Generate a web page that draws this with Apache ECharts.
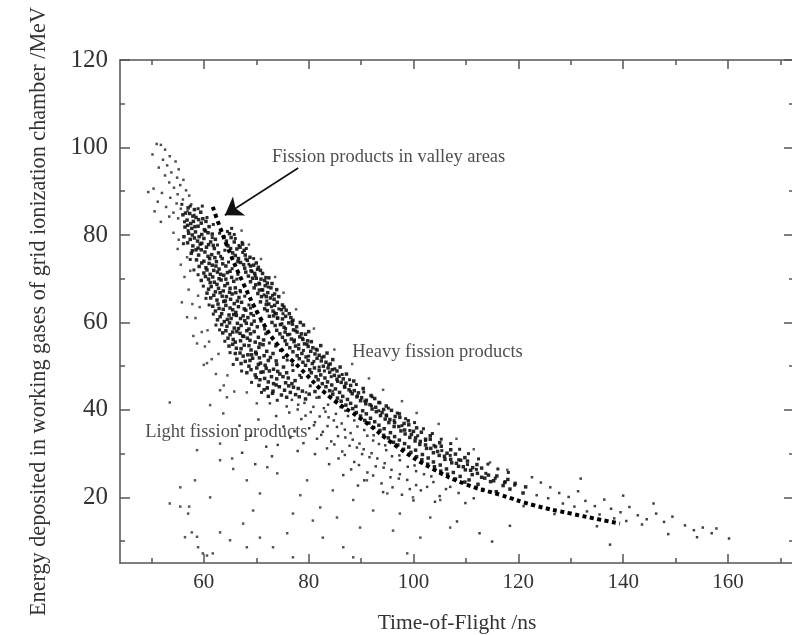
<!DOCTYPE html>
<html>
<head>
<meta charset="utf-8">
<script src="https://cdn.jsdelivr.net/npm/echarts@6/dist/echarts.min.js"></script>
<style>
  html, body { margin: 0; padding: 0; background: #fff; }
  #chart { width: 792px; height: 635px; }
</style>
</head>
<body>
<div id="chart"></div>
<script>
// tick values
const xMajorTicks = [60, 80, 100, 120, 140, 160];
const xMinorTicks = [50, 70, 90, 110, 130, 150, 170];
const yMajorTicks = [20, 40, 60, 80, 100, 120];
const yMinorTicks = [10, 30, 50, 70, 90, 110];

// points, [time-of-flight ns, energy MeV]
const topCluster = [
  [51.0,100.8],[51.8,100.6],[52.6,99.5],[50.2,98.4],[53.5,98.0],[52.2,97.2],[54.6,96.8],[53.0,95.9],
  [51.4,95.4],[55.2,95.0],[53.8,94.3],[52.6,93.6],[54.9,93.1],[56.1,92.6],[53.4,92.0],[55.5,91.4],
  [50.4,90.6],[54.3,90.8],[56.6,90.2],[52.0,89.6],[55.0,89.3],[57.2,89.0],[49.4,89.8],[53.6,88.5],
  [56.0,88.1],[51.2,87.6],[54.8,87.2],[57.6,87.0],[52.8,86.4],[55.6,86.0],[50.6,85.4],[54.2,85.1],
  [56.9,85.5],[53.4,84.2],[58.2,84.6],[51.8,83.0],[55.1,83.8]
];

const lightBand = [
  [56.0,84.6],[57.3,84.9],[58.5,84.0],[59.4,85.2],[56.8,83.4],[58.0,83.1],[59.8,83.7],[57.5,82.6],
  [56.4,81.8],[57.7,81.5],[58.9,82.0],[60.1,81.2],[61.0,81.9],[57.1,80.4],[58.4,80.7],[59.6,80.1],
  [60.8,80.5],[56.2,79.6],[57.4,79.0],[58.8,78.6],[60.0,79.2],[61.3,78.4],[62.2,79.0],[57.9,77.5],
  [59.3,77.9],[60.5,77.2],[61.8,77.6],[58.5,76.6],[57.6,75.8],[59.0,75.4],[60.2,76.1],[61.5,75.5],
  [62.8,75.9],[63.5,74.6],[58.6,74.3],[60.0,74.0],[61.1,74.6],[62.4,73.9],[59.1,72.8],[60.4,72.5],
  [61.6,73.1],[62.9,72.2],[64.2,72.9],[65.0,71.7],[60.0,71.3],[61.2,71.0],[62.6,71.5],[63.8,70.8],
  [59.5,69.6],[60.9,69.9],[62.0,69.2],[63.3,69.7],[64.5,68.9],[65.7,69.4],[61.4,68.2],[62.8,67.8],
  [64.0,68.4],[66.0,67.9],[60.6,66.7],[61.9,66.2],[63.1,66.8],[64.3,65.9],[65.4,66.5],[66.7,65.7],
  [62.5,65.1],[63.8,64.8],[65.1,65.3],[67.2,64.6],[61.7,63.7],[62.9,63.2],[64.2,63.9],[65.5,62.9],
  [66.6,63.6],[68.0,62.8],[63.4,62.0],[64.8,61.7],[66.1,62.3],[67.5,61.5],[69.0,62.0],[62.6,60.6],
  [63.9,60.2],[65.2,60.9],[66.4,59.8],[67.8,60.4],[69.1,59.6],[64.4,59.1],[65.8,58.7],[67.1,59.3],
  [68.6,58.5],[70.2,59.0],[63.6,57.6],[65.0,57.2],[66.3,57.9],[67.6,56.8],[68.9,57.4],[70.4,56.6],
  [65.6,56.1],[67.0,55.8],[68.3,56.4],[69.8,55.5],[71.4,56.0],[64.8,54.6],[66.2,54.1],[67.7,54.8],
  [69.0,53.7],[70.5,54.3],[72.0,53.4],[66.9,53.0],[68.4,52.6],[69.9,53.2],[71.5,52.4],[73.2,52.9],
  [66.3,51.6],[67.9,51.1],[69.3,51.8],[70.8,50.7],[72.3,51.3],[73.9,50.4],[68.6,50.0],[70.1,49.6],
  [71.7,50.2],[73.3,49.3],[75.2,49.8],[68.2,48.5],[69.8,48.0],[71.3,48.7],[72.9,47.6],[74.5,48.2],
  [76.1,47.3],[70.7,46.9],[72.3,46.4],[73.9,47.1],[75.6,46.2],[77.4,46.7],[70.5,45.6],[72.1,45.0],
  [73.8,45.7],[75.4,44.5],[77.1,45.2],[78.8,44.3],[73.1,43.8],[74.8,43.4],[76.5,44.0],[78.2,43.0],
  [80.1,43.6]
];

const lightCore = [
  [57.0,86.2],[58.2,85.8],[56.5,85.0],[57.9,84.3],[59.0,83.5],[56.9,82.2],[58.3,81.9],[59.5,82.7],
  [60.4,83.1],[57.8,80.0],[59.1,79.6],[60.3,80.9],[61.6,80.2],[56.9,78.2],[58.2,79.3],[59.6,78.1],
  [60.9,77.8],[62.0,76.9],[58.9,77.0],[57.8,76.4],[59.5,76.6],[60.8,75.1],[62.1,74.8],[59.6,73.6],
  [61.0,73.5],[62.3,72.9],[63.6,73.4],[60.6,72.0],[61.9,71.9],[63.2,71.0],[64.5,71.4],[60.3,70.5],
  [61.7,70.4],[62.9,70.0],[64.2,69.9],[65.3,70.3],[61.2,69.1],[62.5,68.7],[63.7,67.2],[65.0,67.8],
  [60.9,67.6],[62.2,67.0],[63.5,66.0],[64.9,66.9],[66.1,66.8],[61.3,65.6],[62.7,64.2],[64.1,64.9],
  [65.8,64.3],[66.4,64.9],[62.2,62.6],[63.7,63.0],[65.0,63.3],[66.2,61.6],[67.7,63.1],[63.1,61.3],
  [64.5,60.7],[65.7,61.8],[67.0,60.9],[68.4,61.1],[63.4,59.5],[64.9,59.9],[66.6,58.6],[68.1,59.8],
  [69.6,60.3],[64.2,58.1],[65.5,57.8],[66.9,57.5],[68.2,58.1],[69.6,57.9],[64.6,56.4],[66.0,55.5],
  [67.4,56.9],[68.8,55.9],[70.7,55.1],[65.5,55.0],[67.1,54.0],[68.6,54.7],[70.0,52.8],[71.3,54.9],
  [66.0,52.9],[67.5,52.3],[69.1,52.6],[70.6,51.9],[72.7,52.0],[67.1,50.6],[68.8,51.3],[70.4,50.4],
  [71.9,49.5],[73.8,51.2],[69.0,49.2],[70.9,48.6],[72.5,48.9],[74.1,48.8],[75.8,48.5],[70.0,47.4],
  [71.6,47.2],[73.3,46.0],[75.1,47.6],[76.8,46.0],[71.5,44.6],[73.2,44.3],[74.4,45.3],[76.2,45.5],
  [78.0,44.9],[72.3,43.1],[75.8,42.9],[77.5,43.5],[79.4,42.5],[81.2,44.2]
];

const lightExtra = [
  [55.8,87.0],[57.4,86.6],[58.9,86.0],[56.3,83.0],[60.6,84.0],[57.0,81.0],[61.8,82.4],[56.1,78.0],
  [61.6,79.4],[62.6,77.7],[57.4,74.4],[63.2,75.1],[58.1,72.0],[64.7,73.8],[58.9,70.9],[65.4,72.3],
  [59.9,68.3],[66.3,69.9],[60.4,65.5],[66.9,67.3],[61.0,64.0],[67.8,66.0],[61.8,61.9],[68.6,64.0],
  [62.3,59.4],[69.5,61.6],[63.0,58.3],[70.9,60.3],[64.0,55.7],[71.8,57.4],[65.0,53.1],[72.5,55.3],
  [65.6,50.4],[74.6,53.6],[67.2,48.9],[75.9,51.4],[69.1,46.3],[77.0,49.0],[71.0,44.0],[78.6,47.4],
  [80.3,45.5],[74.0,42.2],[82.0,42.9],[59.7,86.6],[63.0,80.4],[64.0,76.5],[66.5,71.0],[67.0,67.0],
  [68.9,63.3],[70.1,62.4],[71.6,58.5],[73.7,54.6],[75.2,52.0],[76.9,50.3],[78.3,47.9]
];

const lightTail = [
  [76.8,42.3],[79.2,41.6],[81.5,42.8],[83.7,41.2],[85.4,42.0],[77.9,40.1],[80.4,39.5],[82.9,40.4],
  [85.2,39.1],[87.0,39.8],[78.6,37.9],[81.2,37.2],[83.8,38.3],[86.3,36.9],[88.7,37.6],[80.1,35.8],
  [82.7,35.0],[85.4,36.1],[88.0,34.7],[90.6,35.4],[92.4,34.2],[81.6,33.4],[84.3,32.8],[87.0,33.7],
  [89.7,32.3],[92.3,33.0],[94.6,31.9],[83.5,31.2],[86.4,30.5],[89.2,31.4],[92.0,30.1],[94.8,30.8],
  [97.3,29.6],[85.7,28.9],[88.7,28.1],[91.6,29.2],[94.5,27.8],[97.4,28.5],[100.2,27.3],[88.1,26.4],
  [91.2,25.7],[94.3,26.8],[97.4,25.3],[100.5,26.0],[103.4,24.8],[90.6,23.9],[93.9,23.2],[97.2,24.3],
  [100.5,22.8],[103.8,23.5],[107.0,22.4],[94.2,21.2],[97.8,20.6],[101.4,21.6],[105.0,20.3],[108.6,21.0],
  [111.5,19.8],[79.5,44.0],[84.6,44.3],[73.8,38.6],[75.2,36.2],[76.5,33.7],[74.1,32.0],[77.9,30.6],
  [72.6,41.5],[75.8,40.8],[66.8,36.4],[68.9,34.1],[70.4,37.8],[71.9,31.6],[67.3,30.2],[69.8,27.6],
  [73.0,29.4],
  [78.0,41.2],[80.9,40.7],[83.2,39.6],[86.1,40.6],[79.4,38.7],[82.1,38.5],[84.8,37.6],[87.5,38.6],
  [81.0,36.5],[83.6,36.3],[86.9,35.5],[89.3,36.2],[82.4,34.3],[85.6,34.0],[88.4,33.2],[91.2,34.1],
  [84.9,32.1],[87.8,31.8],[90.5,31.0],[93.4,32.2],[86.9,29.7],[90.2,29.9],[93.1,28.9],[95.9,29.4],
  [89.6,27.4],[92.8,27.1],[95.8,26.3],[98.9,27.0],[92.3,25.0],[95.6,24.6],[98.8,24.0],[102.0,25.3],
  [96.0,22.3],[99.3,21.9],[102.6,22.4],[106.2,21.9],[100.0,19.3],[104.1,19.0],[109.9,18.7],[76.3,39.4],
  [77.3,35.1],[79.0,32.4],[81.2,29.9],[83.9,27.6],[86.6,25.1],[89.4,22.7]
];

const heavyBand = [
  [63.8,79.6],[64.9,80.3],[65.8,78.4],[64.6,77.5],[66.3,76.8],[67.4,77.9],[65.5,75.9],[67.9,75.4],
  [66.6,74.6],[67.0,73.7],[68.3,74.2],[69.5,73.1],[67.8,72.4],[69.0,71.8],[70.4,72.6],[71.2,71.2],
  [68.5,70.6],[70.0,70.1],[71.6,69.6],[68.9,69.3],[70.6,68.8],[72.1,69.0],[69.6,67.9],[71.2,67.4],
  [72.8,67.9],[73.5,66.5],[70.3,66.6],[71.9,65.9],[73.4,65.3],[70.8,64.7],[72.4,64.2],[74.0,64.6],
  [75.3,63.5],[71.6,63.1],[73.2,62.6],[74.8,62.9],[76.3,62.0],[72.5,61.4],[74.1,61.0],[75.6,61.4],
  [77.0,60.5],[73.0,60.0],[74.6,59.5],[76.2,59.9],[77.7,59.0],[79.0,59.4],[73.9,58.2],[75.5,57.8],
  [77.1,58.3],[78.6,57.4],[80.0,57.9],[75.0,56.6],[76.7,56.2],[78.3,56.7],[79.8,55.8],[75.8,55.0],
  [77.5,54.6],[79.2,55.1],[80.8,54.2],[82.3,54.7],[77.0,53.3],[78.7,52.9],[80.4,53.4],[82.0,52.5],
  [83.5,53.0],[78.2,51.7],[79.9,51.3],[81.6,51.8],[83.3,50.9],[84.6,51.5],[79.4,50.2],[81.1,49.6],
  [82.8,50.0],[84.5,49.2],[86.0,49.8],[80.5,48.5],[82.3,48.0],[84.0,48.6],[85.8,47.7],[87.2,48.2],
  [81.8,46.9],[83.6,46.4],[85.4,47.0],[87.1,46.1],[88.6,46.6],[83.3,45.3],[85.1,44.8],[86.9,45.2],
  [88.7,44.4],[90.4,44.9],[84.6,43.6],[86.5,43.1],[88.3,43.7],[90.1,42.8],[91.9,43.3],[86.2,42.0],
  [88.0,41.5],[89.9,42.1],[91.7,41.2],[93.4,41.7],[94.8,40.9],[88.4,40.3],[90.3,39.8],[92.1,40.2],
  [94.0,39.4],[95.8,39.9],[97.3,39.1],[89.9,38.6],[91.8,38.1],[93.7,38.7],[95.5,37.8],[97.4,38.3],
  [99.0,37.5],[91.5,37.0],[93.4,36.5],[95.3,37.1],[97.2,36.2],[99.1,36.6],[100.6,35.9],[93.6,35.3],
  [95.6,34.8],[97.6,35.2],[99.6,34.4],[101.5,34.9],[103.2,34.1],[95.2,33.6],[97.3,33.1],[99.3,33.7],
  [101.3,32.8],[103.2,33.3],[105.0,32.5],[97.0,32.0],[99.1,31.5],[101.2,32.1],[103.3,31.2],[105.3,31.7],
  [107.1,30.9],[99.5,30.3],[101.7,29.8],[103.8,30.2],[105.9,29.4],[108.0,29.9],[109.8,29.1],[101.6,28.6],
  [103.8,28.1],[106.0,28.7],[108.2,27.8],[110.3,28.3],[112.1,27.5],[104.0,27.0],[106.3,26.5],[108.6,27.1],
  [110.9,26.2],[113.0,26.7],[106.5,25.3],[108.9,24.8],[111.2,25.2],[113.6,24.4],[115.9,24.9],[118.0,24.1],
  [109.8,23.5],[112.3,23.0],[114.7,23.6],[117.1,22.7],[119.4,23.2],[121.4,22.4],[113.2,21.8],[115.8,21.3],
  [118.4,21.9],[120.9,21.0]
];

const heavyCore = [
  [64.3,78.6],[65.2,79.4],[66.9,77.2],[65.1,76.9],[66.0,75.3],[67.7,76.5],[68.8,74.9],[66.5,73.9],
  [67.6,73.2],[68.9,72.9],[70.0,73.6],[68.0,71.5],[69.7,71.2],[70.8,71.9],[69.3,70.1],[70.9,69.9],
  [72.4,70.2],[69.9,68.6],[71.7,68.4],[73.0,68.9],[70.6,67.4],[72.2,66.8],[73.9,67.5],[71.0,65.9],
  [72.7,65.6],[74.3,65.9],[71.9,64.1],[73.5,63.9],[75.0,64.0],[72.1,62.7],[73.8,62.0],[75.7,62.8],
  [73.3,61.5],[75.0,60.8],[76.6,61.1],[73.6,59.3],[75.3,58.9],[76.9,59.6],[78.4,60.0],[74.5,57.4],
  [76.0,57.2],[77.8,57.8],[79.4,57.3],[75.5,55.8],[77.2,55.6],[78.9,56.1],[80.5,55.6],[76.4,54.2],
  [78.1,54.0],[79.9,54.5],[81.6,53.7],[77.8,52.4],[79.5,52.1],[81.2,52.8],[82.9,52.2],[78.9,50.9],
  [80.7,50.6],[82.4,51.2],[84.1,50.5],[80.2,49.2],[82.0,49.0],[83.7,49.6],[85.4,48.9],[81.4,47.6],
  [83.1,47.3],[84.9,47.9],[86.6,47.1],[82.6,46.0],[84.4,45.7],[86.2,46.3],[88.0,45.6],[84.0,44.4],
  [85.9,44.0],[87.7,44.6],[89.5,43.9],[85.5,42.7],[87.4,42.4],[89.2,43.0],[91.0,42.2],[92.6,42.6],
  [87.1,41.1],[89.0,40.8],[90.9,41.4],[92.8,40.6],[94.3,40.1],[89.1,39.4],[91.0,39.1],[92.9,39.6],
  [94.8,38.8],[96.5,38.5],[90.7,37.6],[92.6,37.3],[94.6,37.9],[96.4,37.1],[98.2,36.9],[92.4,36.0],
  [94.4,35.7],[96.3,36.2],[98.3,35.4],[100.0,35.1],[94.3,34.2],[96.4,33.9],[98.4,34.5],[100.4,33.6],
  [102.3,33.3],[96.2,32.6],[98.3,32.3],[100.3,32.9],[102.3,32.0],[104.2,31.6],[98.1,31.0],[100.4,30.8],
  [102.5,31.2],[104.6,30.5],[106.4,30.1],[100.6,29.3],[102.8,29.0],[104.9,29.6],[107.1,28.7],[109.0,28.5],
  [102.7,27.6],[105.1,27.4],[107.3,27.9],[109.5,27.0],[111.3,26.8],[105.2,26.0],[107.6,25.7],[109.9,26.3],
  [112.2,25.5],[114.3,25.1],[108.0,24.2],[110.6,24.0],[113.0,24.6],[115.3,23.8],[117.4,23.4]
];

const heavyExtra = [
  [64.5,80.8],[65.3,81.5],[66.0,79.2],[66.7,77.6],[67.4,76.0],[68.0,74.5],[68.6,73.3],[69.2,71.6],
  [69.8,70.7],[70.5,69.0],[71.1,67.5],[71.5,66.3],[72.0,64.9],[72.9,63.6],[73.5,62.2],[74.0,61.0],
  [74.9,59.7],[75.6,58.6],[76.4,57.3],[77.3,56.0],[78.1,54.9],[79.0,53.6],[80.0,52.3],[81.0,51.1],
  [82.0,49.8],[83.0,48.9],[84.3,47.6],[85.5,46.5],[86.8,45.4],[88.0,44.2],[89.3,43.2],[90.7,42.0],
  [92.0,40.9],[93.4,39.8],[94.9,38.6],[96.3,37.6],[97.8,36.4],[99.3,35.3],[100.8,34.1],[102.3,33.0],
  [103.9,31.9],[105.4,30.7],[107.0,29.6],[108.6,28.6],[110.3,27.5],[112.0,26.4],[113.8,25.5],[115.6,24.4],
  [117.5,23.6],[119.3,22.8],[65.8,80.1],[67.3,78.3],[68.1,76.9],[69.5,74.6],[70.2,72.1],[71.8,70.3],
  [72.3,68.1],[73.1,66.2],[74.3,63.1],[75.1,62.0],[76.8,60.2],[77.5,58.1],[78.8,56.4],[79.7,55.0],
  [81.4,53.9],[82.5,52.0],[83.8,50.3],[85.0,49.4],[86.4,48.1],[87.8,46.9],[89.1,45.8],[90.5,44.1],
  [92.1,43.0],[93.6,41.6],[95.2,40.4],[96.9,39.3],[98.5,38.0],[100.2,37.1],[101.9,35.7],[103.6,34.6],
  [105.3,33.3],[107.1,32.3],[108.8,31.0],[110.5,30.0],[112.4,28.8],[114.2,27.6],[116.1,26.5],[118.1,25.7]
];

const heavyTail = [
  [122.6,24.6],[124.3,23.4],[126.1,22.3],[123.5,20.5],[125.7,19.8],[127.8,21.0],[129.6,20.1],[131.4,21.4],
  [128.5,18.6],[130.7,17.9],[132.8,19.2],[134.6,18.0],[136.4,19.5],[133.1,16.8],[135.5,16.1],[137.7,17.4],
  [139.5,16.6],[141.2,17.8],[138.3,15.2],[140.6,14.6],[142.8,15.9],[144.5,15.0],[146.3,16.3],[143.6,13.8],
  [147.8,14.4],[149.4,15.6],[151.8,13.6],[153.5,12.5],[155.2,13.1],[156.9,11.8],[157.8,12.9],[154.1,10.9],
  [121.0,18.0],[126.9,16.2],[135.0,13.4],[148.6,11.6],[131.9,24.3],[140.0,20.4],[145.8,18.6],[160.2,10.6],
  [108.3,14.5],[112.6,11.8],[118.4,13.5],[115.0,9.9],[137.5,9.2]
];

const outliers = [
  [54.2,80.5],[55.0,76.8],[55.6,73.2],[56.3,70.4],[57.1,67.5],[57.8,64.2],[58.4,61.0],[59.6,57.8],
  [60.2,54.5],[61.5,51.6],[62.3,48.2],[63.8,45.6],[58.9,66.1],[56.8,74.9],[60.7,58.2],[62.8,52.8],
  [55.2,78.9],[57.4,71.8],[59.2,63.5],[61.0,55.6],[64.5,47.9],[65.8,44.2],[60.0,50.3],[58.0,56.9],
  [55.8,64.6],[56.8,61.2],[58.7,55.2],[60.6,50.7],
  [91.5,47.2],[94.2,44.6],[97.8,42.0],[100.6,39.3],[104.8,36.8],[108.2,33.4],[111.5,31.0],[114.6,28.0],
  [117.9,26.3],[88.3,50.5],[84.9,53.8],[81.0,58.6],[77.6,63.0],[75.2,66.8],[73.6,70.4],[70.9,74.5],
  [68.6,77.8],[67.2,81.0]
];

const background = [
  [53.5,18.6],[55.5,22.3],[57.0,16.3],[58.3,23.9],[58.7,11.0],[53.5,41.7],[61.2,41.1],[64.4,42.9],
  [63.1,28.5],[65.4,28.9],[61.2,20.0],[63.1,12.0],[65.0,10.2],[67.5,14.0],[69.4,17.0],[70.7,20.9],
  [68.2,23.9],[72.1,26.9],[74.0,25.5],[70.7,10.8],[73.2,8.6],[75.9,11.8],[77.0,16.3],[78.4,20.5],
  [79.7,23.9],[80.8,14.7],[82.2,17.7],[82.7,10.8],[84.6,21.6],[85.4,15.4],[86.6,8.6],[88.5,19.4],
  [89.8,13.1],[91.1,23.9],[92.3,17.0],[95.0,20.9],[96.1,12.4],[97.4,16.3],[99.9,20.0],[101.3,10.8],
  [103.2,15.4],[105.1,19.4],[107.0,13.1],[98.8,7.2],[88.5,6.3],[77.0,6.3],[59.8,7.2],[68.2,8.6],
  [55.5,17.9],[57.2,17.9],[57.7,12.0],[58.9,8.6],[60.6,6.7],[61.7,7.2],[56.4,10.9],[58.7,30.8],
  [63.1,32.3],[65.6,26.5],[63.7,39.2],[63.1,44.5],[68.2,44.0],[70.1,41.5],[72.1,45.2]
];

// dotted line through the valley
const valleyLine = [
  [61.7,86.4],[63.0,82.0],[65.0,75.8],[67.5,69.0],[70.7,61.2],[74.0,55.0],[78.4,49.5],[84.0,43.0],
  [90.4,37.6],[97.0,31.5],[103.7,26.5],[110.0,23.0],[116.5,20.6],[123.0,18.2],[130.0,16.3],[139.4,14.0]
];

const serif = '"Liberation Serif", "DejaVu Serif", serif';
const axisColor = '#555';

function xAxisDef(position, ticks, len, labels, showLine) {
  return {
    type: 'value', position: position, min: 44, max: 172.6,
    axisLine: { show: showLine, onZero: false, lineStyle: { color: axisColor, width: 1.5 } },
    axisTick: { show: true, inside: true, length: len, customValues: ticks, lineStyle: { color: axisColor, width: 1.5 } },
    axisLabel: labels ? { show: true, customValues: ticks, color: '#333', fontSize: 21, fontFamily: serif, margin: 9 } : { show: false },
    splitLine: { show: false }
  };
}

function yAxisDef(position, ticks, len, labels, showLine) {
  return {
    type: 'value', position: position, min: 5, max: 120,
    axisLine: { show: showLine, onZero: false, lineStyle: { color: axisColor, width: 1.5 } },
    axisTick: { show: true, inside: true, length: len, customValues: ticks, lineStyle: { color: axisColor, width: 1.5 } },
    axisLabel: labels ? { show: true, customValues: ticks, color: '#333', fontSize: 25, fontFamily: serif, margin: 12 } : { show: false },
    splitLine: { show: false }
  };
}

const chart = echarts.init(document.getElementById('chart'));

const xMain = xAxisDef('bottom', xMajorTicks, 9, true, true);
xMain.name = 'Time-of-Flight /ns';
xMain.nameLocation = 'middle';
xMain.nameGap = 49;
xMain.nameTextStyle = { color: '#333', fontSize: 21.5, fontFamily: serif };

const yMain = yAxisDef('left', yMajorTicks, 10, true, true);
yMain.name = 'Energy deposited in working gases of grid ionization chamber /MeV';
yMain.nameLocation = 'middle';
yMain.nameGap = 70;
yMain.nameTextStyle = { color: '#333', fontSize: 22.2, fontFamily: serif };

const dotStyle = (size, opacity) => ({
  type: 'scatter', xAxisIndex: 0, yAxisIndex: 0, symbol: 'rect', symbolSize: size,
  itemStyle: { color: '#111', opacity: opacity }, silent: true
});

chart.setOption({
  animation: false,
  grid: { left: 120, top: 60, width: 674, height: 503, outerBoundsMode: 'none' },
  xAxis: [
    xMain,
    xAxisDef('bottom', xMinorTicks, 5, false, false),
    xAxisDef('top', xMajorTicks, 9, false, true),
    xAxisDef('top', xMinorTicks, 5, false, false)
  ],
  yAxis: [
    yMain,
    yAxisDef('left', yMinorTicks, 5, false, false),
    yAxisDef('right', yMajorTicks, 10, false, true),
    yAxisDef('right', yMinorTicks, 5, false, false)
  ],
  series: [
    Object.assign(dotStyle(2.5, 0.7), { name: 'background', data: background }),
    Object.assign(dotStyle(2.5, 0.7), { name: 'outliers', data: outliers }),
    Object.assign(dotStyle(2.5, 0.75), { name: 'top', data: topCluster }),
    Object.assign(dotStyle(3.5, 0.9), { name: 'light', data: lightBand }),
    Object.assign(dotStyle(3.5, 0.9), { name: 'lightCore', data: lightCore }),
    Object.assign(dotStyle(3, 0.9), { name: 'lightExtra', data: lightExtra }),
    Object.assign(dotStyle(2.5, 0.8), { name: 'lightTail', data: lightTail }),
    Object.assign(dotStyle(3.5, 0.9), { name: 'heavy', data: heavyBand }),
    Object.assign(dotStyle(3.5, 0.9), { name: 'heavyCore', data: heavyCore }),
    Object.assign(dotStyle(3, 0.9), { name: 'heavyExtra', data: heavyExtra }),
    Object.assign(dotStyle(2.5, 0.8), { name: 'heavyTail', data: heavyTail }),
    {
      name: 'valley', type: 'line', xAxisIndex: 0, yAxisIndex: 0, data: valleyLine,
      smooth: true, symbol: 'none', silent: true,
      lineStyle: { color: '#000', width: 4, type: [4, 3.5], cap: 'butt' }
    },
    {
      name: 'arrow', type: 'lines', coordinateSystem: 'cartesian2d', xAxisIndex: 0, yAxisIndex: 0,
      symbol: ['none', 'arrow'], symbolSize: 17, silent: true,
      lineStyle: { color: '#111', width: 1.6, opacity: 1 },
      data: [{ coords: [[78.0, 95.3], [64.0, 84.5]] }]
    },
    {
      name: 'notes', type: 'scatter', xAxisIndex: 0, yAxisIndex: 0, symbolSize: 0, silent: true,
      label: {
        show: true, position: 'right', distance: 0, formatter: p => p.data.text,
        color: '#222', fontSize: 18.5, fontFamily: serif
      },
      data: [
        { value: [73.0, 97.8], text: 'Fission products in valley areas' },
        { value: [88.3, 53.2], text: 'Heavy fission products' },
        { value: [48.8, 34.9], text: 'Light fission products' }
      ]
    }
  ]
});
</script>
</body>
</html>
